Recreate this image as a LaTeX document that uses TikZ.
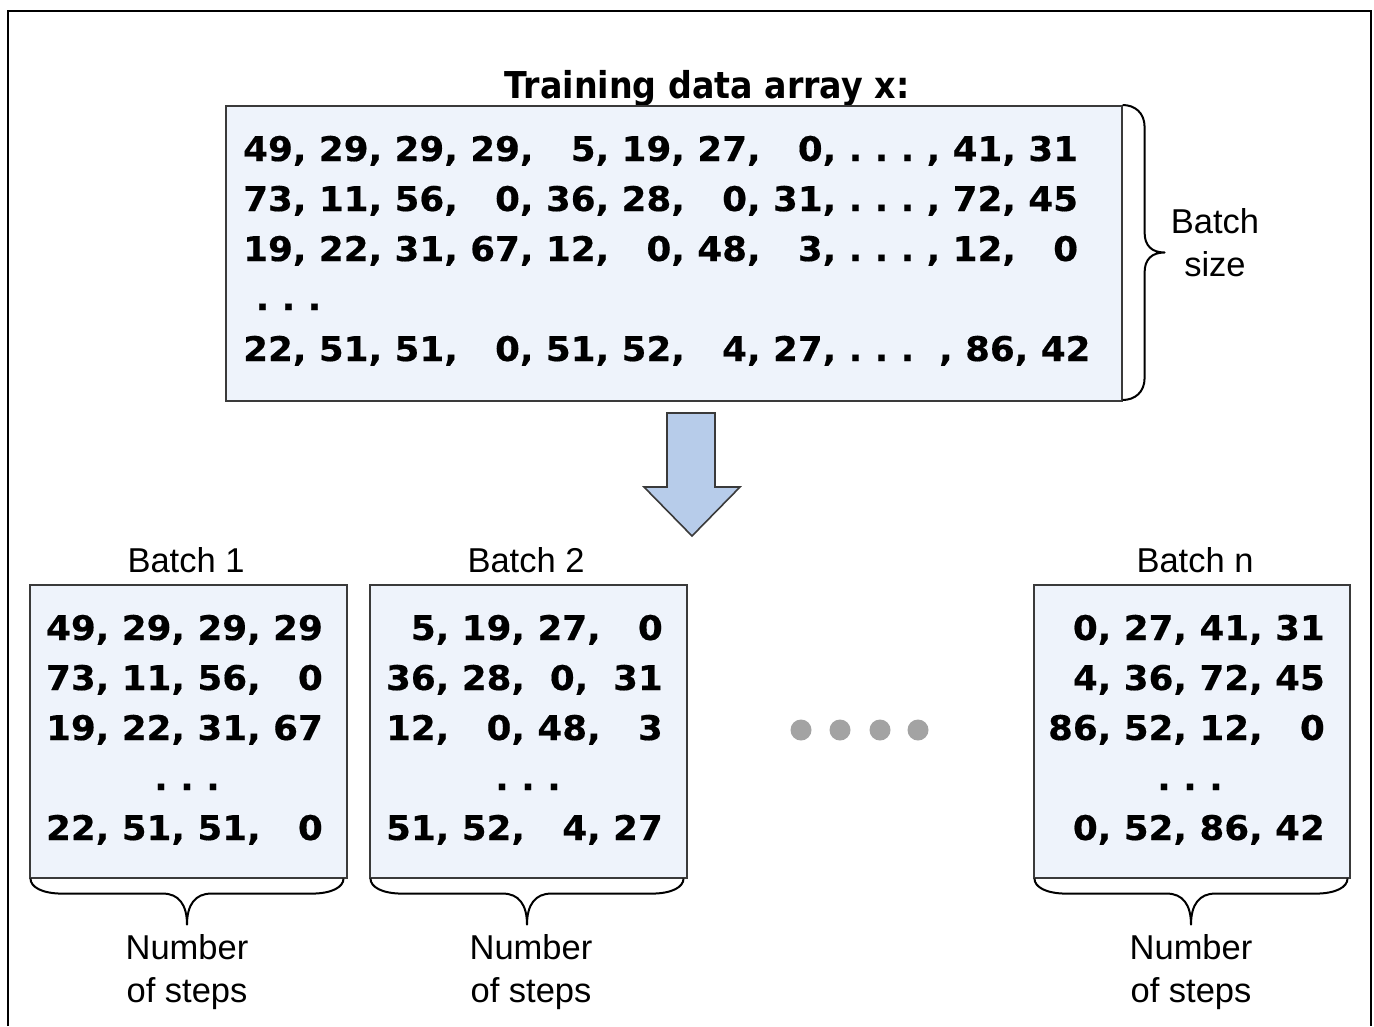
\documentclass[tikz,border=0pt]{standalone}
\usepackage{fontspec}
\usetikzlibrary{calc}
\setmainfont{Liberation Sans}
\newfontfamily\numfont{DejaVu Sans}[FakeStretch=1.05, BoldFeatures={FakeBold=0.4}]
\newfontfamily\titlefont{DejaVu Sans}[FakeStretch=0.9]
\newfontfamily\labfont{Liberation Sans}
\definecolor{panelfill}{HTML}{EEF3FB}
\definecolor{arrowfill}{HTML}{B7CCEA}
\definecolor{edge}{HTML}{3A3A3A}
\definecolor{dotgray}{HTML}{A3A3A3}
\tikzset{
  frame/.style={line width=2.5pt, draw=black},
  panel/.style={draw=edge, line width=1.6pt, fill=panelfill, inner sep=0, anchor=north west},
  num/.style={font=\numfont\bfseries\fontsize{34}{36}\selectfont, inner sep=0},
  ttl/.style={font=\titlefont\bfseries\fontsize{37}{40}\selectfont, inner sep=0},
  lab/.style={font=\labfont\fontsize{34.5}{43}\selectfont, align=center, inner sep=0},
  bracestyle/.style={draw=black, line width=2pt, line join=round},
  blockarrow/.style={draw=edge, line width=1.6pt, fill=arrowfill, line join=miter},
  bigdot/.style={circle, fill=dotgray, minimum size=21pt, inner sep=0},
  pics/mybrace/.style n args={5}{code={
    \draw[bracestyle] (0,0) .. controls (0,0.55*#2) and (0.35*#4,#2) .. (#4,#2)
      -- ({#1/2-#5},#2) .. controls ({#1/2-0.35*#5},#2) and (#1/2,{#2+0.35*(#3-#2)}) .. (#1/2,#3)
      .. controls (#1/2,{#2+0.35*(#3-#2)}) and ({#1/2+0.35*#5},#2) .. ({#1/2+#5},#2)
      -- ({#1-#4},#2) .. controls ({#1-0.35*#4},#2) and (#1,0.55*#2) .. (#1,0);
  }}
}
\begin{document}
\begin{tikzpicture}[x=1pt,y=-1pt]
\useasboundingbox (0,0) rectangle (1374,1026);
\fill[white] (0,0) rectangle (1374,1026);
\draw[frame] (8,1026) -- (8,11) -- (1371,11) -- (1371,1026);

% training data array
\node[ttl, anchor=base] (title) at (707,98) {Training data array x:};
\node[panel, minimum width=896pt, minimum height=295pt] (data) at (225,105) {};
\node[num, anchor=base west] (d1) at (243,161) {49, 29, 29, 29,~~~5, 19, 27,~~~0, .~.~.~, 41, 31};
\node[num, anchor=base west] (d2) at (243,211) {73, 11, 56,~~~0, 36, 28,~~~0, 31, .~.~.~, 72, 45};
\node[num, anchor=base west] (d3) at (243,261) {19, 22, 31, 67, 12,~~~0, 48,~~~3, .~.~.~, 12,~~~0};
\node[num, anchor=base west] (d4) at (243,310) {~.~.~.};
\node[num, anchor=base west] (d5) at (243,361) {22, 51, 51,~~~0, 51, 52,~~~4, 27, .~.~.~~, 86, 42};
\pic[rotate=-90, yscale=-1] at (data.north east) {mybrace={295}{22}{42}{22}{20}};
\node[lab] (bsize) at (1215,243) {Batch\\size};

% block arrow
\draw[blockarrow] (667,413) -- (715,413) -- (715,487) -- (740,487) -- (692,536)
  -- (644,487) -- (667,487) -- cycle;

% batch 1
\node[lab, anchor=base] (l1) at (186,572) {Batch 1};
\node[panel, minimum width=317pt, minimum height=293pt] (b1) at (29,584) {};
\node[num, anchor=base east] (b1r1) at (323,640) {49, 29, 29, 29};
\node[num, anchor=base east] (b1r2) at (323,690) {73, 11, 56,~~~0};
\node[num, anchor=base east] (b1r3) at (323,740) {19, 22, 31, 67};
\node[num, anchor=base] (b1r4) at (187,790) {.~.~.};
\node[num, anchor=base east] (b1r5) at (323,840) {22, 51, 51,~~~0};
\pic at ($(b1.south west)+(1.5,0)$) {mybrace={313}{15}{46}{32}{24}};
\node[lab] (s1) at (187,972) {Number\\of steps};

% batch 2
\node[lab, anchor=base] (l2) at (526,572) {Batch 2};
\node[panel, minimum width=317pt, minimum height=293pt] (b2) at (369,584) {};
\node[num, anchor=base east] (b2r1) at (663,640) {~~5, 19, 27,~~~0};
\node[num, anchor=base east] (b2r2) at (663,690) {36, 28,~~0,~~31};
\node[num, anchor=base east] (b2r3) at (663,740) {12,~~~0, 48,~~~3};
\node[num, anchor=base] (b2r4) at (528,790) {.~.~.};
\node[num, anchor=base east] (b2r5) at (663,840) {51, 52,~~~4, 27};
\pic at ($(b2.south west)+(1.5,0)$) {mybrace={313}{15}{46}{32}{24}};
\node[lab] (s2) at (531,972) {Number\\of steps};

% dots
\node[bigdot] (g1) at (801,730) {};
\node[bigdot] (g2) at (840,730) {};
\node[bigdot] (g3) at (880,730) {};
\node[bigdot] (g4) at (918,730) {};

% batch n
\node[lab, anchor=base] (ln) at (1195,572) {Batch n};
\node[panel, minimum width=316pt, minimum height=293pt] (bn) at (1033,584) {};
\node[num, anchor=base east] (bnr1) at (1325,640) {~~0, 27, 41, 31};
\node[num, anchor=base east] (bnr2) at (1325,690) {~~4, 36, 72, 45};
\node[num, anchor=base east] (bnr3) at (1325,740) {86, 52, 12,~~~0};
\node[num, anchor=base] (bnr4) at (1190,790) {.~.~.};
\node[num, anchor=base east] (bnr5) at (1325,840) {~~0, 52, 86, 42};
\pic at ($(bn.south west)+(1.5,0)$) {mybrace={313}{15}{46}{32}{24}};
\node[lab] (sn) at (1191,972) {Number\\of steps};
\end{tikzpicture}
\end{document}
